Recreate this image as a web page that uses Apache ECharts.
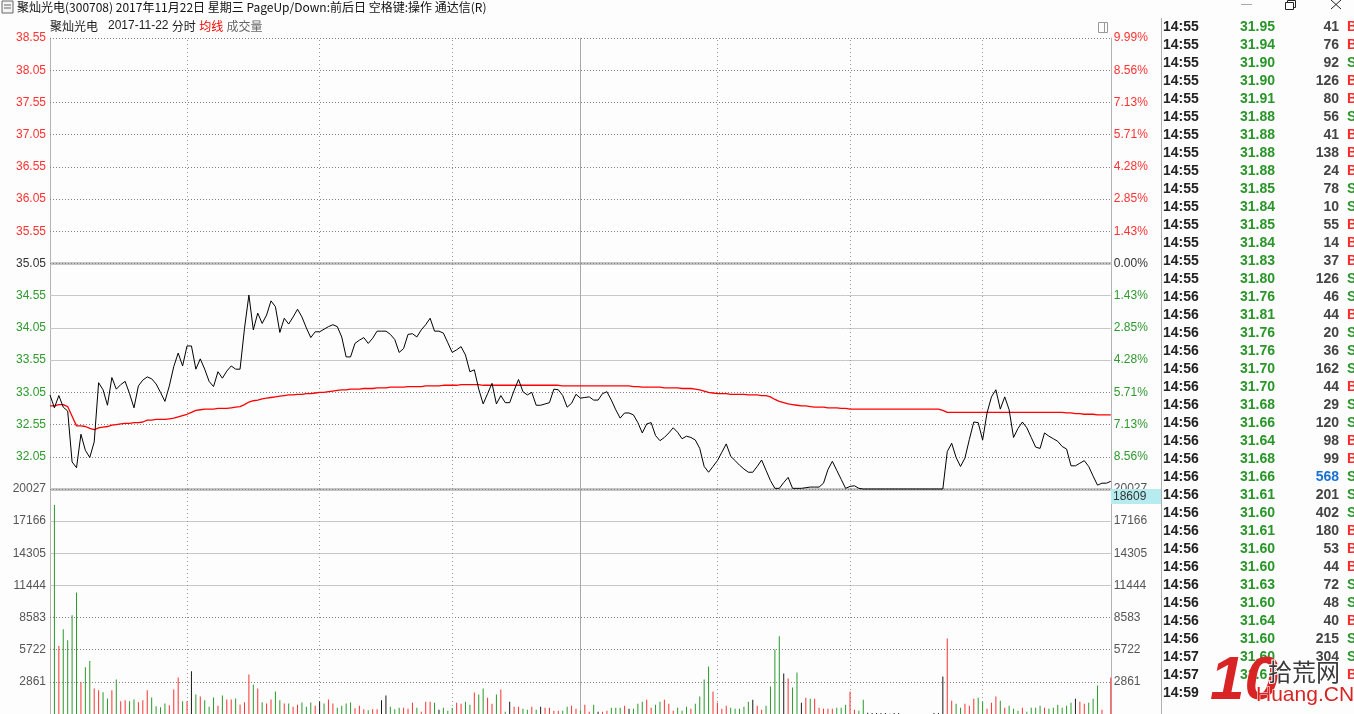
<!DOCTYPE html>
<html><head><meta charset="utf-8">
<script src="https://cdn.jsdelivr.net/npm/echarts@6/dist/echarts.min.js"></script>
<style>html,body{margin:0;padding:0;background:#ffffff;}#c{width:1354px;height:714px;}</style>
</head><body><div id="c"></div>
<script>
// ---------------- data ----------------
const prevClose = 35.05;
const priceTicks = [32.05, 32.55, 33.05, 33.55, 34.05, 34.55, 35.05, 35.55, 36.05, 36.55, 37.05, 37.55, 38.05, 38.55];
const priceSolidLevels = [33.55, 34.05, 34.55];
const priceBoldLevels = [31.55, 35.05];
const volTicks = [2861, 5722, 8583, 11444, 14305, 17166, 20027];
const volSolidLevels = [11444, 14305, 17166];
const timeDotted = [31, 61, 91, 151, 181, 211];
const timeSolid = [120];

const price = [
  33.01, 32.81, 33.00, 32.82, 32.76, 31.97, 31.88, 32.40, 32.15, 32.04,
  32.28, 33.20, 33.09, 32.85, 33.28, 33.10, 33.17, 33.22, 33.03, 32.81,
  33.15, 33.24, 33.29, 33.26, 33.18, 33.05, 32.91, 33.15, 33.45, 33.66,
  33.46, 33.77, 33.77, 33.41, 33.57, 33.41, 33.22, 33.14, 33.37, 33.27,
  33.38, 33.46, 33.41, 33.41, 34.04, 34.56, 34.02, 34.28, 34.12, 34.25,
  34.47, 34.38, 33.98, 34.20, 34.11, 34.22, 34.34, 34.22, 34.05, 33.90,
  33.99, 33.99, 34.03, 34.07, 34.10, 34.07, 33.91, 33.60, 33.60, 33.81,
  33.86, 33.90, 33.81, 33.89, 34.00, 34.00, 34.00, 33.95, 33.87, 33.67,
  33.73, 33.95, 33.96, 33.91, 34.02, 34.10, 34.20, 34.00, 34.00, 33.97,
  33.82, 33.67, 33.71, 33.76, 33.63, 33.37, 33.40, 33.10, 32.87, 33.03,
  33.19, 32.87, 33.00, 32.89, 32.89, 33.08, 33.25, 33.06, 33.01, 33.05,
  32.85, 32.85, 32.87, 32.89, 33.10, 33.09, 33.00, 32.82, 32.88, 33.02,
  32.96, 32.97, 32.98, 32.93, 32.93, 33.03, 33.06, 32.93, 32.78, 32.65,
  32.73, 32.73, 32.70, 32.58, 32.42, 32.56, 32.58, 32.38, 32.30, 32.35,
  32.42, 32.50, 32.43, 32.33, 32.37, 32.35, 32.31, 32.18, 31.90, 31.81,
  31.90, 31.99, 32.12, 32.25, 32.06, 31.99, 31.92, 31.86, 31.81, 31.81,
  31.90, 32.00, 31.84, 31.68, 31.56, 31.56, 31.65, 31.73, 31.56, 31.56,
  31.56, 31.57, 31.58, 31.58, 31.58, 31.64, 31.85, 31.98, 31.84, 31.70,
  31.56, 31.59, 31.60, 31.56, 31.55, 31.55, 31.55, 31.55, 31.55, 31.55,
  31.55, 31.55, 31.55, 31.55, 31.55, 31.55, 31.55, 31.55, 31.55, 31.55,
  31.55, 31.55, 31.55, 32.13, 32.26, 32.04, 31.90, 32.03, 32.32, 32.59,
  32.58, 32.31, 32.73, 32.98, 33.09, 32.79, 32.98, 32.78, 32.35, 32.49,
  32.59, 32.50, 32.35, 32.20, 32.18, 32.42, 32.37, 32.33, 32.29, 32.21,
  32.17, 31.91, 31.91, 31.95, 31.99, 31.90, 31.75, 31.61, 31.64, 31.64,
  31.67
];

const avgPrice = [
  32.84, 32.84, 32.86, 32.86, 32.83, 32.68, 32.53, 32.53, 32.52, 32.49,
  32.47, 32.50, 32.51, 32.52, 32.54, 32.55, 32.56, 32.57, 32.57, 32.58,
  32.58, 32.59, 32.62, 32.62, 32.63, 32.63, 32.63, 32.64, 32.65, 32.67,
  32.69, 32.71, 32.74, 32.77, 32.78, 32.79, 32.79, 32.79, 32.80, 32.80,
  32.80, 32.81, 32.82, 32.83, 32.86, 32.90, 32.92, 32.93, 32.95, 32.96,
  32.97, 32.98, 32.99, 33.00, 33.01, 33.01, 33.02, 33.02, 33.03, 33.03,
  33.04, 33.05, 33.05, 33.06, 33.07, 33.08, 33.09, 33.09, 33.10, 33.10,
  33.10, 33.11, 33.11, 33.11, 33.12, 33.12, 33.12, 33.13, 33.13, 33.13,
  33.13, 33.14, 33.14, 33.14, 33.14, 33.15, 33.15, 33.15, 33.15, 33.16,
  33.16, 33.16, 33.16, 33.17, 33.17, 33.17, 33.17, 33.17, 33.16, 33.16,
  33.16, 33.16, 33.16, 33.16, 33.16, 33.16, 33.16, 33.16, 33.16, 33.16,
  33.16, 33.16, 33.16, 33.16, 33.16, 33.16, 33.15, 33.15, 33.15, 33.15,
  33.15, 33.15, 33.15, 33.15, 33.15, 33.15, 33.15, 33.15, 33.15, 33.15,
  33.15, 33.15, 33.14, 33.14, 33.13, 33.13, 33.13, 33.13, 33.13, 33.12,
  33.12, 33.12, 33.12, 33.11, 33.11, 33.11, 33.10, 33.09, 33.07, 33.05,
  33.04, 33.03, 33.03, 33.03, 33.02, 33.02, 33.02, 33.02, 33.01, 33.01,
  33.01, 33.00, 33.00, 32.98, 32.94, 32.91, 32.89, 32.87, 32.86, 32.85,
  32.84, 32.84, 32.83, 32.82, 32.82, 32.82, 32.81, 32.81, 32.81, 32.80,
  32.80, 32.79, 32.79, 32.79, 32.79, 32.79, 32.79, 32.79, 32.79, 32.79,
  32.79, 32.79, 32.79, 32.79, 32.79, 32.79, 32.79, 32.79, 32.79, 32.79,
  32.79, 32.79, 32.77, 32.74, 32.74, 32.74, 32.74, 32.74, 32.74, 32.74,
  32.74, 32.74, 32.74, 32.74, 32.74, 32.74, 32.74, 32.74, 32.74, 32.74,
  32.74, 32.74, 32.74, 32.74, 32.74, 32.74, 32.74, 32.74, 32.74, 32.74,
  32.73, 32.73, 32.72, 32.72, 32.71, 32.71, 32.71, 32.70, 32.70, 32.70,
  32.70
];

const volume = [
  null, 18609, 6049, 7539, 6556, 8791, 10817, 2831, 4172, 4708,
  2265, 2116, 1937, 1371, 2116, 3069, 1132, 1222, 1132, 1281,
  1043, 1222, 2116, 1460, 685, 596, 924, 775, 2175, 3248,
  1132, 1132, 3814, 1728, 1550, 1222, 656, 1460, 745, 1639,
  1281, 1281, 1371, 834, 1043, 3516, 2622, 2265, 1043, 924,
  1281, 1997, 1222, 924, 924, 656, 834, 1013, 656, 1013,
  745, 1103, 924, 1281, 924, 566, 745, 924, 1013, 507,
  745, 417, 328, 417, 417, 1222, 1639, 656, 417, 566,
  563, 474, 1010, 563, 206, 1100, 1100, 1010, 384, 563,
  295, 563, 1010, 921, 1100, 831, 1904, 1725, 2262, 1457,
  921, 1725, 2172, 206, 1100, 653, 653, 474, 384, 653,
  384, 653, 563, 563, 295, 295, 295, 653, 742, 474,
  295, 831, 206, 831, 206, 206, 295, 563, 563, 563,
  742, 474, 474, 921, 1100, 1278, 563, 831, 1100, 1278,
  921, 295, 563, 295, 653, 474, 921, 1547, 3066, 4228,
  1994, 1010, 474, 742, 563, 474, 474, 653, 1100, 1278,
  742, 384, 742, 2441, 5748, 6910, 3603, 3156, 2351, 3692,
  1010, 1457, 1368, 1368, 563, 474, 474, 474, 563, 563,
  831, 1994, 384, 295, 1278, 116, 86, 86, 86, 86,
  30, 86, 86, 0, 0, 0, 0, 0, 0, 0,
  86, 86, 3329, 6729, 1189, 921, 563, 921, 742, 1368,
  1457, 1100, 474, 1010, 1547, 1189, 563, 742, 474, 295,
  563, 206, 563, 563, 742, 563, 474, 563, 831, 563,
  742, 1010, 1368, 1100, 921, 1010, 1368, 2530, 384, 0,
  3245
];

// bar colour per minute: R = up, G = down, K = unchanged
const volDir = ('-' +
  'GRGGGGRGGR' + 'RGGRGRRGGR' + 'RRGGGGRRRG' + 'RKGRGGGRGR' + 'RGRRRGRGRR' +
  'GGRGRRGGGR' + 'KGRRGGGGRR' + 'RGRRKKGGGR' + 'RRGRRRGKGG' + 'GRRGGRGGRR' +
  'GRGKRRGGRG' + 'KRRRRGGRRG' + 'RRGKRRGGGR' + 'KGGGRRGGRR' + 'RGGGRGGGGR' +
  'RRRGGGGGKR' + 'RGGGGKRGGK' + 'RGRRRRRGGG' + 'RRGGKKKKKK' + 'KKKKKKKKKK' +
  'KKRRGGRRRG' + 'GRRRGRGGGR' + 'GGGGRGGGGG' + 'GKRRGGGRKR').split('');

// trade detail list on the right
const tradeTime  = ['14:55','14:55','14:55','14:55','14:55','14:55','14:55','14:55','14:55','14:55',
                    '14:55','14:55','14:55','14:55','14:55','14:56','14:56','14:56','14:56','14:56',
                    '14:56','14:56','14:56','14:56','14:56','14:56','14:56','14:56','14:56','14:56',
                    '14:56','14:56','14:56','14:56','14:56','14:57','14:57','14:59'];
const tradePrice = ['31.95','31.94','31.90','31.90','31.91','31.88','31.88','31.88','31.88','31.85',
                    '31.84','31.85','31.84','31.83','31.80','31.76','31.81','31.76','31.76','31.70',
                    '31.70','31.68','31.66','31.64','31.68','31.66','31.61','31.60','31.61','31.60',
                    '31.60','31.63','31.60','31.64','31.60','31.60','31.6',''];
const tradeVol   = ['41','76','92','126','80','56','41','138','24','78',
                    '10','55','14','37','126','46','44','20','36','162',
                    '44','29','120','98','99','568','201','402','180','53',
                    '44','72','48','40','215','304','',''];
const tradeSide  = ['B','B','S','B','B','S','B','B','B','S',
                    'S','B','B','B','S','S','B','S','S','S',
                    'B','S','S','B','B','S','S','S','B','B',
                    'B','S','S','B','S','S','B',''];

// ---------------- build ----------------
const categories = [];
for (let k = 0; k <= 240; k++) {
  const m = k <= 120 ? 9 * 60 + 30 + k : 13 * 60 + (k - 120);
  categories.push(String(Math.floor(m / 60)).padStart(2, '0') + ':' + String(m % 60).padStart(2, '0'));
}

const FONT = "'Liberation Sans', Arial, 'Noto Sans CJK SC', sans-serif";
const CJK = "'Noto Sans CJK SC', 'Liberation Sans', sans-serif";
const RED = '#ff3232', GREEN = '#2f9a2f', DARK = '#333333', GRAY = '#555555';
const dirColor = { R: '#ff3030', G: '#2a9a2a', K: '#1a1a1a' };

const solidStyle = { color: '#c8c8c8', width: 1, type: 'solid' };
const dotStyle = { color: '#808080', width: 1, type: [1, 2] };
const boldStyle = { color: '#c4c4c4', width: 3, type: 'solid' };
const vDotStyle = { color: '#9a9a9a', width: 1, type: [1, 3] };
const vSolidStyle = { color: '#a8a8a8', width: 1, type: 'solid' };

function levelLines(levels, solidLevels, boldLevels) {
  const out = [];
  levels.forEach(v => {
    if (boldLevels.includes(v)) {
      out.push({ yAxis: v, lineStyle: boldStyle });
      out.push({ yAxis: v, lineStyle: dotStyle });
    } else if (solidLevels.includes(v)) {
      out.push({ yAxis: v, lineStyle: solidStyle });
    } else {
      out.push({ yAxis: v, lineStyle: dotStyle });
    }
  });
  return out;
}
function timeLines() {
  return timeDotted.map(i => ({ xAxis: i, lineStyle: vDotStyle }))
    .concat(timeSolid.map(i => ({ xAxis: i, lineStyle: vSolidStyle })));
}

const priceGridLines = levelLines([31.55].concat(priceTicks), priceSolidLevels, priceBoldLevels).concat(timeLines());
const volGridLines = levelLines(volTicks.slice(0, 6), volSolidLevels, []).concat(timeLines());

const priceColor = v => { v = parseFloat(v); return v > prevClose + 0.001 ? RED : (v < prevClose - 0.001 ? GREEN : DARK); };

const markBase = { z: 1, symbol: ['none', 'none'], silent: true, animation: false, label: { show: false }, emphasis: { disabled: true } };

// graphic: header, trade list, decorations
const graphics = [];
graphics.push({ type: 'rect', shape: { x: 2, y: 1, width: 11, height: 12 }, style: { fill: '#f4f4f4', stroke: '#666', lineWidth: 1 } });
graphics.push({ type: 'line', shape: { x1: 4, y1: 5, x2: 11, y2: 5 }, style: { stroke: '#666' } });
graphics.push({ type: 'line', shape: { x1: 4, y1: 8, x2: 11, y2: 8 }, style: { stroke: '#666' } });
graphics.push({ type: 'text', left: 17, top: 1, style: { text: '聚灿光电(300708) 2017年11月22日 星期三 PageUp/Down:前后日 空格键:操作 通达信(R)', fontSize: 12, fontFamily: CJK, fill: '#111' } });
// window buttons
graphics.push({ type: 'line', shape: { x1: 1241, y1: 4.5, x2: 1252, y2: 4.5 }, style: { stroke: '#aaa', lineWidth: 1 } });
graphics.push({ type: 'rect', shape: { x: 1285.5, y: 2.5, width: 8, height: 7 }, style: { fill: 'none', stroke: '#222', lineWidth: 1 } });
graphics.push({ type: 'polyline', shape: { points: [[1287.5, 2.5], [1287.5, 0.5], [1295.5, 0.5], [1295.5, 7.5], [1293.5, 7.5]] }, style: { fill: 'none', stroke: '#222', lineWidth: 1 } });
graphics.push({ type: 'line', shape: { x1: 1331, y1: 0, x2: 1341, y2: 9 }, style: { stroke: '#222', lineWidth: 1 } });
graphics.push({ type: 'line', shape: { x1: 1341, y1: 0, x2: 1331, y2: 9 }, style: { stroke: '#222', lineWidth: 1 } });
// chart header
graphics.push({ type: 'text', left: 50, top: 20, style: {
  text: '{a|聚灿光电}   {b|2017-11-22} {a|分时} {r|均线} {g|成交量}',
  rich: { a: { fontSize: 12, fontFamily: CJK, fill: '#222' }, b: { fontSize: 12, fontFamily: FONT, fill: '#222' },
          r: { fontSize: 12, fontFamily: CJK, fill: '#ff0000' }, g: { fontSize: 12, fontFamily: CJK, fill: '#666' } } } });
// small box icon at chart top-right
graphics.push({ type: 'rect', shape: { x: 1098.5, y: 22.5, width: 9, height: 10 }, style: { fill: 'none', stroke: '#999', lineWidth: 1 } });
graphics.push({ type: 'line', shape: { x1: 1104.5, y1: 22.5, x2: 1104.5, y2: 32.5 }, style: { stroke: '#999', lineWidth: 1 } });
// separator
graphics.push({ type: 'line', shape: { x1: 1161.5, y1: 18, x2: 1161.5, y2: 714 }, style: { stroke: '#b0b0b0', lineWidth: 1 } });
// trade list
tradeTime.forEach((t, i) => {
  const y = 27 + 18 * i;
  const base = { fontSize: 14, fontWeight: 'bold', fontFamily: FONT, verticalAlign: 'middle' };
  graphics.push({ type: 'text', x: 1163, y: y, style: Object.assign({ text: t, fill: '#222' }, base) });
  if (tradePrice[i]) graphics.push({ type: 'text', x: 1240, y: y, style: Object.assign({ text: tradePrice[i], fill: '#2a962a' }, base) });
  if (tradeVol[i]) graphics.push({ type: 'text', x: 1339, y: y, style: Object.assign({ text: tradeVol[i], fill: parseInt(tradeVol[i]) >= 500 ? '#1a6fd8' : '#444', align: 'right' }, base) });
  if (tradeSide[i]) graphics.push({ type: 'text', x: 1347, y: y, style: Object.assign({ text: tradeSide[i], fill: tradeSide[i] === 'B' ? '#ff2a2a' : '#2a962a' }, base) });
});
// current-volume box
graphics.push({ type: 'rect', z: 50, shape: { x: 1111, y: 489, width: 50, height: 15 }, style: { fill: '#b6ecef' } });
graphics.push({ type: 'text', z: 51, x: 1113, y: 497, style: { text: '18609', fontSize: 12, fontFamily: FONT, fill: '#333', verticalAlign: 'middle' } });
// watermark
graphics.push({ type: 'text', z: 60, x: 1210, y: 682, style: { text: '10', fontSize: 62, fontWeight: 900, fontStyle: 'italic', fontFamily: FONT, fill: '#d82424', verticalAlign: 'middle' } });
graphics.push({ type: 'text', z: 60, x: 1268, y: 672, style: { text: '拾荒网', fontSize: 24, fontFamily: CJK, fill: '#3a3a3a', stroke: '#ffffff', lineWidth: 2, verticalAlign: 'middle' } });
graphics.push({ type: 'text', z: 60, x: 1256, y: 695, style: { text: 'Huang.CN', fontSize: 21, fontFamily: FONT, fill: '#d82424', stroke: '#ffffff', lineWidth: 1, verticalAlign: 'middle' } });

const option = {
  animation: false,
  backgroundColor: '#fcfdfc',
  textStyle: { fontFamily: FONT },
  grid: [
    { left: 50, top: 38, width: 1060.8, height: 451 },
    { left: 50, top: 489, width: 1060.8, height: 225 }
  ],
  xAxis: [
    { type: 'category', gridIndex: 0, data: categories, boundaryGap: false, show: false },
    { type: 'category', gridIndex: 1, data: categories, boundaryGap: false, show: false }
  ],
  yAxis: [
    { type: 'value', gridIndex: 0, position: 'left', min: 31.55, max: 38.55,
      axisLine: { show: true, lineStyle: { color: '#b4b4b4' } }, axisTick: { show: false }, splitLine: { show: false },
      axisLabel: { customValues: priceTicks, formatter: v => Number(v).toFixed(2), color: priceColor, fontSize: 12, margin: 4, fontFamily: FONT } },
    { type: 'value', gridIndex: 0, position: 'right', min: 31.55, max: 38.55,
      axisLine: { show: true, lineStyle: { color: '#b4b4b4' } }, axisTick: { show: false }, splitLine: { show: false },
      axisLabel: { customValues: priceTicks, formatter: v => Math.abs((v - prevClose) / prevClose * 100).toFixed(2) + '%', color: priceColor, fontSize: 12, margin: 3, fontFamily: FONT } },
    { type: 'value', gridIndex: 1, position: 'left', min: 0, max: 20027,
      axisLine: { show: true, lineStyle: { color: '#b4b4b4' } }, axisTick: { show: false }, splitLine: { show: false },
      axisLabel: { customValues: volTicks, formatter: v => String(Math.round(v)), color: GRAY, fontSize: 12, margin: 4, fontFamily: FONT } },
    { type: 'value', gridIndex: 1, position: 'right', min: 0, max: 20027,
      axisLine: { show: true, lineStyle: { color: '#b4b4b4' } }, axisTick: { show: false }, splitLine: { show: false },
      axisLabel: { customValues: volTicks, formatter: v => String(Math.round(v)), color: GRAY, fontSize: 12, margin: 3, fontFamily: FONT } }
  ],
  series: [
    { name: 'grid-price', type: 'line', xAxisIndex: 0, yAxisIndex: 0, data: [], z: 1,
      markLine: Object.assign({ data: priceGridLines }, markBase) },
    { name: 'grid-vol', type: 'line', xAxisIndex: 1, yAxisIndex: 2, data: [], z: 1,
      markLine: Object.assign({ data: volGridLines }, markBase) },
    { name: '均线', type: 'line', xAxisIndex: 0, yAxisIndex: 0, data: avgPrice, z: 3,
      symbol: 'none', lineStyle: { color: '#ff0000', width: 1.3 }, silent: true },
    { name: '价格', type: 'line', xAxisIndex: 0, yAxisIndex: 0, data: price, z: 4, clip: false,
      symbol: 'none', lineStyle: { color: '#000000', width: 1 }, silent: true },
    { name: '成交量', type: 'bar', xAxisIndex: 1, yAxisIndex: 2, z: 3, barWidth: 1, silent: true,
      data: volume.map((v, i) => v == null ? '-' : { value: v, itemStyle: { color: dirColor[volDir[i]] } }) }
  ],
  graphic: graphics
};

const chart = echarts.init(document.getElementById('c'));
chart.setOption(option);
</script>
</body></html>
